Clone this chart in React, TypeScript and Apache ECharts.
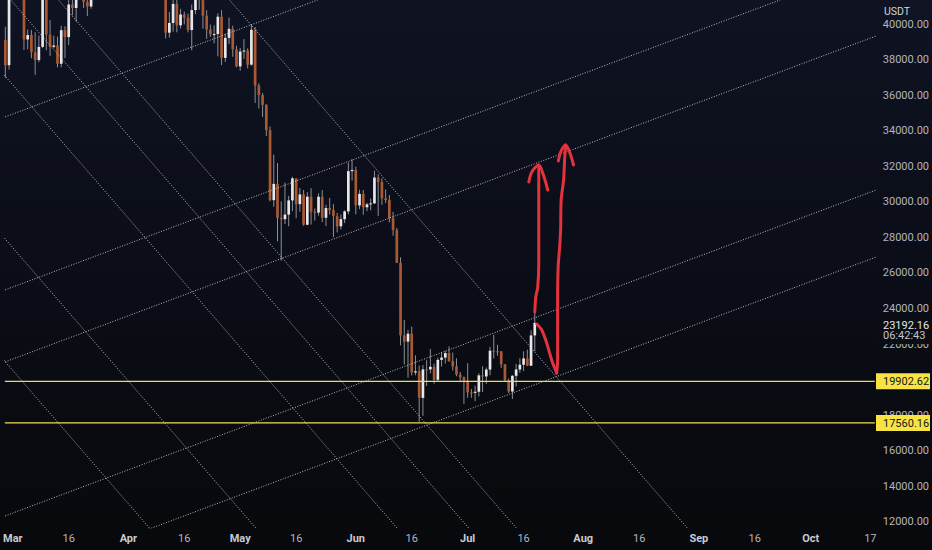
import React, { useEffect, useRef } from "react";
import * as echarts from "echarts";

// Daily BTC/USDT candles, first candle = 27 Feb 2022 (day -2 counted from 1 Mar)
const firstDayIndex = -2;
const open = [
  39116, 37700,
  43160, 44421, 43892, 42455, 39148, 39397, 38420, 37988, 38730, 41941, 39422, 38730, 38807, 37777, 39671, 39281, 41115, 40917, 41757, 42201, 41262, 41003, 42364, 42882, 43991, 44313, 44512, 46820, 47128, 47465, 47063,
  45538, 46282, 45811, 46407, 46580, 45497, 43170, 43445, 42252, 42753, 42158, 39530, 40074, 41147, 39942, 40552, 40378, 39678, 40801, 41493, 41358, 40480, 39709, 39441, 39450, 40427, 38112, 39235, 39742, 38597,
  37630, 38468, 38525, 37729, 39690, 36552, 36014, 35468, 34038, 30100, 31017, 29103, 29029, 29287, 30087, 31328, 29875, 30425, 28716, 30296, 29445, 29400, 30294, 29110, 29655, 29543, 29202, 28630, 29031, 29468, 31734,
  31801, 29805, 30452, 29700, 29865, 29920, 31373, 31125, 30204, 30110, 29091, 28424, 26574, 22487, 22136, 22583, 20401, 20468, 18970, 20574, 20573, 20719, 19987, 21110, 21237, 21492, 21038, 20742, 20281, 20123,
  19942, 19279, 19252, 19315, 20236, 20175, 20564, 21624, 21594, 21591, 20862, 19963, 19329, 20213, 20569, 20836, 21190, 20780, 22485,
];
const close = [
  37700, 43160,
  44421, 43892, 42455, 39148, 39397, 38420, 37988, 38730, 41941, 39422, 38730, 38807, 37777, 39671, 39281, 41115, 40917, 41757, 42201, 41262, 41003, 42364, 42882, 43991, 44313, 44512, 46820, 47128, 47465, 47063, 45538,
  46282, 45811, 46407, 46580, 45497, 43170, 43445, 42252, 42753, 42158, 39530, 40074, 41147, 39942, 40552, 40378, 39678, 40801, 41493, 41358, 40480, 39709, 39441, 39450, 40427, 38112, 39235, 39742, 38597, 37630,
  38468, 38525, 37729, 39690, 36552, 36014, 35468, 34038, 30100, 31017, 29103, 29029, 29287, 30087, 31328, 29875, 30425, 28716, 30296, 29445, 29400, 30294, 29110, 29655, 29543, 29202, 28630, 29031, 29468, 31734, 31801,
  29805, 30452, 29700, 29865, 29920, 31373, 31125, 30204, 30110, 29091, 28424, 26574, 22487, 22136, 22583, 20401, 20468, 18970, 20574, 20573, 20719, 19987, 21110, 21237, 21492, 21038, 20742, 20281, 20123, 19942,
  19279, 19252, 19315, 20236, 20175, 20564, 21624, 21594, 21591, 20862, 19963, 19329, 20213, 20569, 20836, 21190, 20780, 22485, 23192.16,
];
const high = [
  39856, 44225,
  44950, 45400, 44101, 42528, 39695, 39676, 39547, 39363, 42594, 42039, 40236, 39362, 39310, 39915, 39887, 41718, 41478, 42325, 42400, 42296, 41544, 43361, 42893, 44220, 45094, 44792, 46999, 48190, 48096, 47700, 47600,
  46720, 47213, 47444, 46890, 47200, 45507, 43900, 43970, 42800, 43410, 42414, 40699, 41561, 41500, 40870, 40709, 40595, 41116, 41760, 42199, 42976, 40795, 39980, 39940, 40616, 40797, 39474, 40372, 39925, 38795,
  38675, 39167, 38651, 39980, 39845, 36675, 36130, 35502, 34243, 32658, 32190, 30032, 31083, 30343, 31415, 31328, 30788, 30671, 30546, 30777, 29636, 30487, 30670, 29835, 30223, 29880, 29380, 29300, 29531, 32222, 32399,
  31982, 30690, 30675, 29955, 30189, 31765, 31555, 31326, 30700, 30386, 29440, 28544, 26880, 23362, 22800, 22980, 21365, 20792, 20815, 21090, 21723, 20900, 21233, 21558, 21614, 21868, 21520, 21200, 20432, 20179,
  20918, 19471, 19647, 20354, 20750, 20675, 21838, 22527, 21955, 21608, 20868, 20059, 20250, 20880, 21200, 21588, 21684, 22777, 23800,
];
const low = [
  37000, 37451,
  42809, 43334, 41833, 38550, 38595, 38088, 37155, 37867, 38657, 38540, 38224, 38660, 37578, 37578, 38098, 38828, 40500, 40135, 41499, 40911, 40467, 40875, 41751, 42560, 43579, 44071, 44422, 46650, 46950, 46671, 45200,
  44200, 45620, 45530, 45118, 45353, 43121, 42727, 42107, 42125, 41868, 39200, 39254, 39588, 39551, 39766, 39991, 39546, 38536, 40571, 40820, 39751, 39177, 39285, 38929, 38200, 37702, 37881, 38881, 38175, 37578,
  37386, 38052, 37517, 37670, 35571, 35258, 34785, 33714, 30033, 29730, 27785, 26700, 28751, 28630, 29480, 29087, 29451, 28654, 28691, 28730, 28950, 29227, 28866, 28642, 29294, 28020, 28282, 28450, 28811, 29299, 31200,
  29301, 29594, 29282, 29485, 29531, 29890, 29219, 29844, 29944, 28850, 28099, 26560, 21925, 20846, 20111, 20232, 20246, 17622, 17960, 19637, 20348, 19770, 19890, 20736, 20906, 21000, 20510, 20188, 19853, 18626,
  18975, 18977, 18782, 19055, 19305, 19761, 20248, 21189, 21347, 20655, 19901, 19240, 18910, 19616, 20385, 20478, 20755, 20762, 21580,
];

// time scale labels (day counted from 1 Mar 2022)
const tickDays = [0, 15, 31, 46, 61, 76, 92, 107, 122, 137, 153, 168, 184, 199, 214, 230];
const tickLabels = ["Mar", "16", "Apr", "16", "May", "16", "Jun", "16", "Jul", "16", "Aug", "16", "Sep", "16", "Oct", "17"];
// price scale labels (20000 is hidden behind the 19902.62 level label)
const priceTicks = [12000, 14000, 16000, 18000, 22000, 24000, 26000, 28000, 30000, 32000, 34000, 36000, 38000, 40000];

// visible window
const dayMin = -2.133;
const dayMax = 231.2;
const priceMin = 11645;
const priceMax = 41368;

// horizontal levels & last price
const levelPrices = [19902.62, 17560.16];
const lastPrice = 23192.16;
const countdown = "06:42:43";
const currency = "USDT";

// drawn rising channel lines: [day, price] anchors
const risingLines = [
  [[-4, 34635], [233, 53247]],
  [[-4, 24896], [233, 43508]],
  [[-4, 20843], [233, 39455]],
  [[-4, 12173], [233, 30785]],
  [[-4, 8402], [233, 27014]],
];
// drawn falling lines: [day, price] anchors
const fallingLines = [
  [[-88.75, 42000], [39.31, 11000]],
  [[-60.21, 42000], [67.84, 11000]],
  [[-22.35, 42000], [105.71, 11000]],
  [[-3.15, 42000], [124.91, 11000]],
  [[9.65, 42000], [137.71, 11000]],
  [[55.52, 42000], [183.57, 11000]],
];

// hand-drawn red arrows: [day, price]
const arrowOneShaft = [[140.0, 23804], [140.27, 24649], [140.8, 25212], [141.07, 26563], [141.07, 30109], [141.07, 32079]];
const arrowOneHead = [[138.4, 31122], [139.2, 31685], [141.07, 32079], [142.32, 31516], [143.47, 30672]];
const arrowTwoDown = [[140.53, 23129], [141.87, 22791], [143.2, 22059], [144.53, 21102], [145.87, 20370]];
const arrowTwoShaft = [[145.87, 20370], [146.13, 21102], [146.13, 24480], [146.27, 26337], [146.67, 27463], [146.93, 28420], [147.07, 30109], [147.73, 31235], [148.0, 32361], [148.27, 33205]];
const arrowTwoHead = [[146.32, 32305], [146.93, 32811], [148.27, 33205], [149.33, 32811], [150.4, 32079]];

const FONT = "Roboto, 'Noto Sans', sans-serif";
const TEXT = "#b2b5be";
const UP = "#e8e8ea";
const DOWN = "#a95a33";
const WICK = "#8d8f95";
const DRAW = "rgba(214,216,222,0.85)";
const RED = "#e5333d";
const YELLOW = "#f2de4a";
const BG_TOP = "#0f1322";

export default function App() {
  const ref = useRef<HTMLDivElement | null>(null);

  useEffect(() => {
    if (!ref.current) return;
    const chart = echarts.init(ref.current, undefined, { renderer: "svg" });

    const candles = open.map((o, i) => [firstDayIndex + i, o, close[i], low[i], high[i]]);

    const lineSeries = (data: number[][], style: any, z: number, smooth: number | boolean = false, clip = true) => ({
      type: "line",
      data,
      symbol: "none",
      silent: true,
      clip,
      smooth,
      z,
      lineStyle: style,
    });

    const series: any[] = [
      {
        type: "custom",
        clip: true,
        z: 2,
        data: candles,
        encode: { x: 0, y: [1, 2, 3, 4] },
        renderItem: (params: any, api: any) => {
          const d = api.value(0);
          const o = api.value(1);
          const c = api.value(2);
          const l = api.value(3);
          const h = api.value(4);
          const pO = api.coord([d, o]);
          const pC = api.coord([d, c]);
          const pL = api.coord([d, l]);
          const pH = api.coord([d, h]);
          const w = 2.7;
          const top = Math.min(pO[1], pC[1]);
          const hh = Math.max(1, Math.abs(pO[1] - pC[1]));
          return {
            type: "group",
            children: [
              { type: "line", shape: { x1: pH[0], y1: pH[1], x2: pL[0], y2: pL[1] }, style: { stroke: WICK, lineWidth: 1 } },
              { type: "rect", shape: { x: pO[0] - w / 2, y: top, width: w, height: hh }, style: { fill: c >= o ? UP : DOWN } },
            ],
          };
        },
      },
    ];

    risingLines.forEach((ln) => series.push(lineSeries(ln, { color: DRAW, width: 1, type: [1, 1.6] }, 3)));
    fallingLines.forEach((ln) => series.push(lineSeries(ln, { color: DRAW, width: 1, type: [1, 1.6] }, 3)));
    levelPrices.forEach((p) =>
      series.push(lineSeries([[dayMin, p], [dayMax, p]], { color: YELLOW, width: 1.2, type: "solid" }, 4, false, false))
    );
    const redStyle = { color: RED, width: 3, cap: "round", join: "round" };
    [arrowOneShaft, arrowOneHead, arrowTwoDown, arrowTwoShaft, arrowTwoHead].forEach((a) =>
      series.push(lineSeries(a, redStyle, 5, 0.3))
    );

    chart.setOption({
      animation: false,
      backgroundColor: "transparent",
      grid: { left: 0, right: 57, top: 0, bottom: 22 },
      xAxis: {
        type: "value",
        min: dayMin,
        max: dayMax,
        axisLine: { show: false },
        axisTick: { show: false },
        splitLine: { show: false },
        axisLabel: {
          customValues: tickDays,
          formatter: (v: number) => {
            const i = tickDays.indexOf(Math.round(v));
            const t = i >= 0 ? tickLabels[i] : "";
            return /^\d+$/.test(t) ? t : "{m|" + t + "}";
          },
          color: TEXT,
          fontFamily: FONT,
          fontSize: 11,
          margin: 5,
          rich: { m: { color: "#c7cad2", fontFamily: FONT, fontSize: 11, fontWeight: "bold" } },
        },
      },
      yAxis: {
        type: "value",
        position: "right",
        min: priceMin,
        max: priceMax,
        axisLine: { show: false },
        axisTick: { show: false },
        splitLine: { show: false },
        axisLabel: {
          customValues: priceTicks,
          formatter: (v: number) => v.toFixed(2),
          color: TEXT,
          fontFamily: FONT,
          fontSize: 11,
          align: "left",
          margin: 8,
        },
      },
      series,
    });

    const toY = (p: number) => chart.convertToPixel({ yAxisIndex: 0 }, p) as unknown as number;
    const boxX = 876;
    const graphics: any[] = [];
    levelPrices.forEach((p) => {
      const y = toY(p);
      graphics.push({ type: "rect", z: 100, shape: { x: boxX, y: y - 8, width: 54, height: 16 }, style: { fill: "#f7e443" } });
      graphics.push({
        type: "text", z: 101, x: 883, y: y + 0.5,
        style: { text: p.toFixed(2), fill: "#15161a", fontSize: 11, fontFamily: FONT, verticalAlign: "middle", align: "left" },
      });
    });
    const yl = toY(lastPrice);
    graphics.push({ type: "rect", z: 100, shape: { x: boxX, y: yl - 6, width: 56, height: 27 }, style: { fill: "#0b0d14" } });
    graphics.push({
      type: "text", z: 101, x: 883, y: yl + 2.5,
      style: { text: lastPrice.toFixed(2), fill: "#e4e5e8", fontSize: 11, fontFamily: FONT, verticalAlign: "middle", align: "left" },
    });
    graphics.push({
      type: "text", z: 101, x: 883, y: yl + 13,
      style: { text: countdown, fill: "#c2c4ca", fontSize: 11, fontFamily: FONT, verticalAlign: "middle", align: "left" },
    });
    graphics.push({ type: "rect", z: 100, shape: { x: boxX, y: 0, width: 56, height: 20 }, style: { fill: BG_TOP } });
    graphics.push({
      type: "text", z: 101, x: 884, y: 11,
      style: { text: currency, fill: "#d1d4dc", fontSize: 10.5, fontFamily: FONT, verticalAlign: "middle", align: "left" },
    });
    chart.setOption({ graphic: graphics });

    return () => chart.dispose();
  }, []);

  return (
    <div
      style={{
        position: "fixed",
        left: 0,
        top: 0,
        width: 932,
        height: 550,
        background: "linear-gradient(to bottom, #0f1322 0%, #0b0e18 45%, #08090c 100%)",
      }}
    >
      <div ref={ref} style={{ width: 932, height: 550 }} />
    </div>
  );
}
